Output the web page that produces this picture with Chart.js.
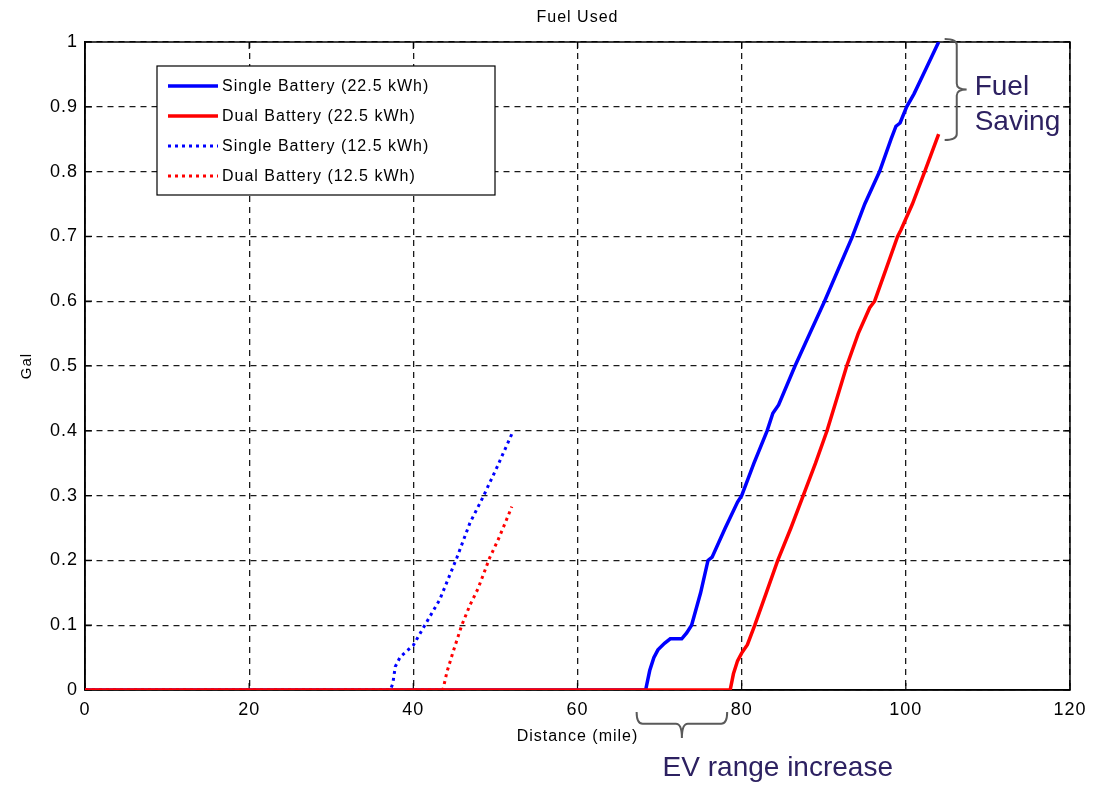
<!DOCTYPE html>
<html>
<head>
<meta charset="utf-8">
<script src="https://cdn.jsdelivr.net/npm/chart.js@4.4.0/dist/chart.umd.min.js"></script>
<style>
  html, body { margin: 0; padding: 0; background: #fff; }
  canvas { display: block; }
</style>
</head>
<body>
<canvas id="chart" width="1094" height="786"></canvas>
<script>
// Fuel used (gal) vs distance (mile)
const seriesLabels = ['Single Battery (22.5 kWh)', 'Dual Battery (22.5 kWh)', 'Single Battery (12.5 kWh)', 'Dual Battery (12.5 kWh)'];

const single22Dist = [0, 68.3, 68.8, 69.3, 69.8, 70.6, 71.3, 72.7, 73.3, 73.9, 75.0, 75.9, 76.4, 78.0, 79.5, 80.0, 81.5, 83.1, 83.8, 84.5, 86.5, 88.3, 90.1, 91.8, 93.5, 95.0, 96.8, 98.2, 98.8, 99.3, 100.1, 101.0, 102.5, 104.0];
const single22Fuel = [0, 0, 0.03, 0.05, 0.062, 0.072, 0.079, 0.079, 0.088, 0.1, 0.15, 0.2, 0.205, 0.25, 0.29, 0.3, 0.35, 0.4, 0.427, 0.44, 0.5, 0.55, 0.6, 0.65, 0.7, 0.75, 0.8, 0.85, 0.87, 0.875, 0.9, 0.92, 0.96, 1.0];

const dual22Dist = [0, 78.6, 79.0, 79.5, 80.0, 80.7, 81.6, 83.0, 84.4, 86.0, 87.5, 89.0, 90.4, 91.6, 92.8, 94.2, 95.6, 96.2, 97.6, 99.0, 99.4, 100.8, 102.3, 104.0];
const dual22Fuel = [0, 0, 0.025, 0.045, 0.057, 0.07, 0.1, 0.15, 0.2, 0.25, 0.3, 0.35, 0.4, 0.45, 0.5, 0.55, 0.59, 0.6, 0.65, 0.7, 0.71, 0.75, 0.8, 0.858];

const single12Dist = [0, 37.2, 37.5, 37.8, 38.4, 40.0, 41.4, 43.2, 45.3, 46.9, 48.5, 50.2, 52.0];
const single12Fuel = [0, 0, 0.01, 0.036, 0.051, 0.069, 0.1, 0.139, 0.204, 0.258, 0.298, 0.344, 0.395];

const dual12Dist = [0, 43.6, 44.1, 44.8, 45.9, 46.9, 47.9, 49.3, 50.3, 51.2, 52.0];
const dual12Fuel = [0, 0, 0.028, 0.057, 0.1, 0.131, 0.157, 0.204, 0.231, 0.258, 0.283];

const xTickValues = [0, 20, 40, 60, 80, 100, 120];
const yTickLabels = ['0', '0.1', '0.2', '0.3', '0.4', '0.5', '0.6', '0.7', '0.8', '0.9', '1'];

const FONT = 'Arial, "Liberation Sans", sans-serif';

function points(xs, ys) {
  return xs.map((x, i) => ({ x: x, y: ys[i] }));
}

function hBrace(ctx, x1, x2, yTop, depth) {
  const mid = (x1 + x2) / 2, r = 6, yl = yTop + depth * 0.45, tip = yTop + depth;
  ctx.beginPath();
  ctx.moveTo(x1, yTop);
  ctx.quadraticCurveTo(x1, yl, x1 + r, yl);
  ctx.lineTo(mid - r, yl);
  ctx.quadraticCurveTo(mid, yl, mid, tip);
  ctx.quadraticCurveTo(mid, yl, mid + r, yl);
  ctx.lineTo(x2 - r, yl);
  ctx.quadraticCurveTo(x2, yl, x2, yTop);
  ctx.stroke();
}

function vBrace(ctx, xL, y1, y2, depth) {
  const mid = (y1 + y2) / 2, r = 6, xl = xL + depth * 0.55, tip = xL + depth;
  ctx.beginPath();
  ctx.moveTo(xL, y1);
  ctx.quadraticCurveTo(xl, y1, xl, y1 + r);
  ctx.lineTo(xl, mid - r);
  ctx.quadraticCurveTo(xl, mid, tip, mid);
  ctx.quadraticCurveTo(xl, mid, xl, mid + r);
  ctx.lineTo(xl, y2 - r);
  ctx.quadraticCurveTo(xl, y2, xL, y2);
  ctx.stroke();
}

const matlabLook = {
  id: 'matlabLook',
  beforeDraw(chart) {
    chart.ctx.letterSpacing = '1px';
  },
  beforeDatasetsDraw(chart) {
    const { ctx, chartArea: a, scales: { x, y } } = chart;
    ctx.save();
    ctx.strokeStyle = '#000';
    ctx.lineWidth = 1.5;
    ctx.setLineDash([]);
    ctx.strokeRect(a.left, a.top, a.right - a.left, a.bottom - a.top);
    // inward tick marks on all four sides
    ctx.lineWidth = 1.2;
    ctx.beginPath();
    x.ticks.forEach(t => {
      const px = x.getPixelForValue(t.value);
      ctx.moveTo(px, a.bottom); ctx.lineTo(px, a.bottom - 7);
      ctx.moveTo(px, a.top); ctx.lineTo(px, a.top + 7);
    });
    y.ticks.forEach(t => {
      const py = y.getPixelForValue(t.value);
      ctx.moveTo(a.left, py); ctx.lineTo(a.left + 7, py);
      ctx.moveTo(a.right, py); ctx.lineTo(a.right - 7, py);
    });
    ctx.stroke();
    ctx.restore();
  },
  afterDraw(chart) {
    const { ctx, chartArea: a, scales: { x, y } } = chart;
    ctx.save();
    ctx.setLineDash([]);

    // title
    ctx.fillStyle = '#000';
    ctx.font = '16px ' + FONT;
    ctx.textAlign = 'center';
    ctx.textBaseline = 'middle';
    ctx.fillText('Fuel Used', (a.left + a.right) / 2, 18);

    // legend
    const bx = a.left + 72, by = a.top + 24, bw = 338, bh = 129;
    ctx.fillStyle = '#fff';
    ctx.fillRect(bx, by, bw, bh);
    ctx.strokeStyle = '#000';
    ctx.lineWidth = 1.2;
    ctx.strokeRect(bx, by, bw, bh);
    ctx.font = '16px ' + FONT;
    ctx.textAlign = 'left';
    chart.data.datasets.forEach((ds, i) => {
      const ly = by + 20 + i * 30;
      ctx.strokeStyle = ds.borderColor;
      ctx.lineWidth = ds.borderWidth;
      ctx.setLineDash(ds.borderDash || []);
      ctx.beginPath();
      ctx.moveTo(bx + 11, ly);
      ctx.lineTo(bx + 61, ly);
      ctx.stroke();
      ctx.setLineDash([]);
      ctx.fillStyle = '#000';
      ctx.fillText(ds.label, bx + 65, ly + 1);
    });

    // annotations
    ctx.letterSpacing = '0px';
    ctx.strokeStyle = '#5a5a5a';
    ctx.lineWidth = 2;
    const evL = x.getPixelForValue(single22Dist[1]) - 9;
    const evR = x.getPixelForValue(dual22Dist[1]) - 3;
    hBrace(ctx, evL, evR, a.bottom + 22, 26);

    const fsX = x.getPixelForValue(single22Dist[single22Dist.length - 1]) + 6;
    const fsTop = y.getPixelForValue(single22Fuel[single22Fuel.length - 1]) - 3;
    const fsBot = y.getPixelForValue(dual22Fuel[dual22Fuel.length - 1]) + 6;
    vBrace(ctx, fsX, fsTop, fsBot, 22);

    ctx.fillStyle = '#2d2161';
    ctx.font = '28px ' + FONT;
    ctx.textAlign = 'left';
    ctx.textBaseline = 'alphabetic';
    ctx.fillText('Fuel', fsX + 30, 95);
    ctx.fillText('Saving', fsX + 30, 130);
    ctx.fillText('EV range increase', evL + 26, 776);
    ctx.restore();
  }
};

new Chart(document.getElementById('chart'), {
  type: 'line',
  data: {
    datasets: [
      { label: seriesLabels[0], data: points(single22Dist, single22Fuel), borderColor: '#0000ff', borderWidth: 3.5, order: 2 },
      { label: seriesLabels[1], data: points(dual22Dist, dual22Fuel), borderColor: '#ff0000', borderWidth: 3.5, order: 0 },
      { label: seriesLabels[2], data: points(single12Dist, single12Fuel), borderColor: '#0000ff', borderWidth: 3, borderDash: [3, 4], order: 3 },
      { label: seriesLabels[3], data: points(dual12Dist, dual12Fuel), borderColor: '#ff0000', borderWidth: 3, borderDash: [3, 4], order: 1 }
    ]
  },
  options: {
    responsive: false,
    animation: false,
    devicePixelRatio: 1,
    elements: { point: { radius: 0 }, line: { tension: 0, fill: false, borderCapStyle: 'butt' } },
    layout: { padding: { top: 42, right: 24, left: 0, bottom: 0 } },
    plugins: { legend: { display: false }, title: { display: false }, tooltip: { enabled: false } },
    scales: {
      x: {
        type: 'linear',
        min: 0,
        max: 120,
        afterBuildTicks: s => { s.ticks = xTickValues.map(v => ({ value: v })); },
        afterFit: s => { s.height = 96; },
        ticks: { color: '#000', font: { family: FONT, size: 18 }, padding: 9, maxRotation: 0, callback: v => String(v) },
        grid: { color: '#1a1a1a', lineWidth: 1.3, drawTicks: false },
        border: { display: true, color: '#000', width: 1.5, dash: [6, 5] },
        title: { display: true, text: 'Distance (mile)', color: '#000', font: { family: FONT, size: 16 }, padding: { bottom: 40 } }
      },
      y: {
        min: 0,
        max: 1,
        afterBuildTicks: s => { s.ticks = yTickLabels.map(l => ({ value: parseFloat(l) })); },
        afterFit: s => { s.width = 85; },
        ticks: { color: '#000', font: { family: FONT, size: 18 }, padding: 7, callback: (v, i) => yTickLabels[i] },
        grid: { color: '#1a1a1a', lineWidth: 1.3, drawTicks: false },
        border: { display: true, color: '#000', width: 1.5, dash: [6, 5] },
        title: { display: true, text: 'Gal', color: '#000', font: { family: FONT, size: 15 }, padding: { top: 18 } }
      }
    }
  },
  plugins: [matlabLook]
});
</script>
</body>
</html>
